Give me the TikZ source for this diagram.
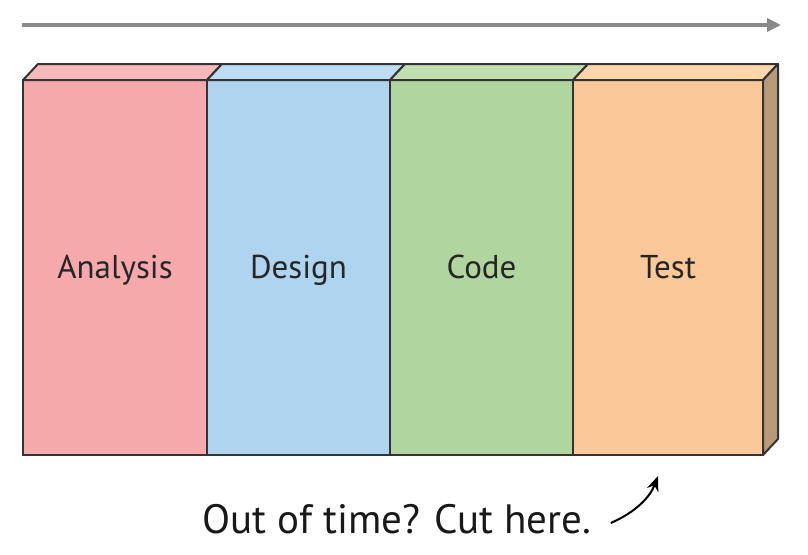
\documentclass[tikz,border=0pt]{standalone}
\usepackage{fontspec}
\setmainfont{PT Sans}
\usepackage{xcolor}
\definecolor{phase-red}{HTML}{F5A9AB}
\definecolor{phase-redtop}{HTML}{F8B9BB}
\definecolor{phase-blue}{HTML}{AED4EF}
\definecolor{phase-bluetop}{HTML}{BEDDF3}
\definecolor{phase-green}{HTML}{B0D59F}
\definecolor{phase-greentop}{HTML}{C2DFB2}
\definecolor{phase-orange}{HTML}{FAC899}
\definecolor{phase-orangetop}{HTML}{FDD5AB}
\definecolor{phase-side}{HTML}{B89A7B}
\definecolor{edgegray}{HTML}{333333}
\definecolor{timegray}{HTML}{8A8A8A}
\usepackage{tikz}
\usetikzlibrary{arrows.meta, positioning, calc}

\begin{document}
\begin{tikzpicture}[
            x=1pt, y=-1pt,
            every node/.style={font=\fontsize{33}{38}\selectfont, text=black!85},
            phasebox/.style={rectangle, draw=edgegray, line width=2pt, minimum height=375pt, anchor=north west, inner sep=0pt, outer sep=0pt, text height=24pt, text depth=3pt},
            topface/.style={draw=edgegray, line width=2pt, line join=round},
            timearrow/.style={-{Triangle[length=14pt, width=13pt]}, draw=timegray, line width=3.5pt},
            arrow/.style={-{Stealth[length=15pt, width=12pt]}, line width=2pt}
        ]

        \useasboundingbox (0,0) rectangle (808,554);

        % --- 1. TIME ARROW ---
        \coordinate (tstart) at (22,25);
        \coordinate (tend) at (781,25);
        \draw[timearrow] (tstart) -- (tend);

        % --- 2. PHASES ---
        \node[phasebox, fill=phase-red, minimum width=184pt] (ana) at (23,80) {Analysis};
        \node[phasebox, fill=phase-blue, minimum width=183pt, right=0pt of ana.north east, anchor=north west] (des) {Design};
        \node[phasebox, fill=phase-green, minimum width=183pt, right=0pt of des.north east, anchor=north west] (cod) {Code};
        \node[phasebox, fill=phase-orange, minimum width=190pt, right=0pt of cod.north east, anchor=north west] (tst) {Test};

        % --- 3. TOP AND SIDE FACES ---
        \draw[topface, fill=phase-redtop] (ana.north west) -- ++(15,-16) -- ($(ana.north east)+(15,-16)$) -- (ana.north east) -- cycle;
        \draw[topface, fill=phase-bluetop] (des.north west) -- ++(15,-16) -- ($(des.north east)+(15,-16)$) -- (des.north east) -- cycle;
        \draw[topface, fill=phase-greentop] (cod.north west) -- ++(15,-16) -- ($(cod.north east)+(15,-16)$) -- (cod.north east) -- cycle;
        \draw[topface, fill=phase-orangetop] (tst.north west) -- ++(15,-16) -- ($(tst.north east)+(15,-16)$) -- (tst.north east) -- cycle;
        \draw[topface, fill=phase-side] (tst.north east) -- ++(15,-16) -- ($(tst.south east)+(15,-16)$) -- (tst.south east) -- cycle;

        % --- 4. NOTE ---
        \node[font=\fontsize{41}{48}\selectfont, text=black!90] (cut) at (397,519) {Out of time? Cut here.};
        \coordinate (cutmark) at (658,476);
        \draw[arrow] ($(cut.east)+(16,4)$) .. controls (636,512) and (650,497) .. (cutmark);

\end{tikzpicture}
\end{document}
